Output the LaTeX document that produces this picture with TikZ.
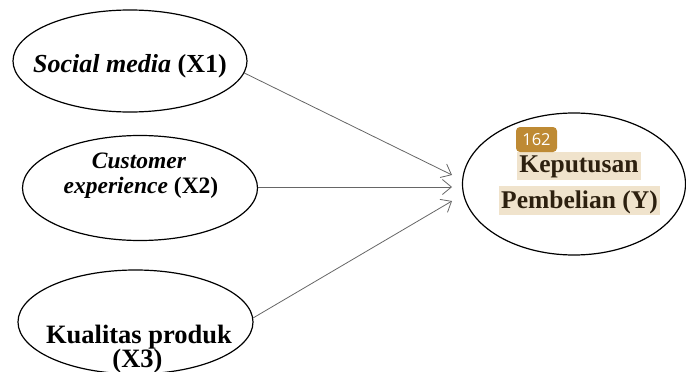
\documentclass[tikz,border=0pt]{standalone}
\usepackage{fontspec}
\setmainfont{Liberation Serif}
\setsansfont{Open Sans}
\usetikzlibrary{shapes.geometric,arrows.meta}
\definecolor{hlbeige}{RGB}{240,227,204}
\definecolor{hltext}{RGB}{45,32,15}
\definecolor{badgegold}{RGB}{190,138,52}
\begin{document}
\begin{tikzpicture}[x=1pt,y=-1pt,
  var/.style={ellipse, draw, line width=1.2pt, inner sep=0pt},
  lbl/.style={anchor=base, inner sep=0pt, font=\fontsize{#1}{#1}\selectfont\bfseries},
  hl/.style={lbl=25.5, text=hltext, fill=hlbeige, inner xsep=2pt},
  path/.style={draw=black!60, line width=0.8pt, -{Straight Barb[length=9pt,width=15pt]}}]
\useasboundingbox (0,0) rectangle (686,372);
% variabel bebas
\node[var, minimum width=234pt, minimum height=102pt] (x1) at (130,61){};
\node[lbl=26] (tx1) at (130,72){\itshape Social media \upshape(X1)};
\node[var, minimum width=235pt, minimum height=105pt] (x2) at (140,188){};
\node[lbl=23.5] (tx2a) at (139,168){\itshape Customer};
\node[lbl=23.5] (tx2b) at (141,193){\itshape experience \upshape(X2)};
\node[var, minimum width=235pt, minimum height=104pt] (x3) at (135.5,322){};
\node[lbl=26.5] (tx3a) at (139,343){Kualitas produk};
\node[lbl=26.5] (tx3b) at (137.5,367){(X3)};
% variabel terikat
\node[var, minimum width=223pt, minimum height=142pt] (y) at (574,184){};
\node[hl, text height=20pt, text depth=8pt] (ty1) at (579,172){Keputusan};
\node[hl, text height=22pt, text depth=7pt] (ty2) at (579.5,208){Pembelian (Y)};
\node[fill=badgegold, rounded corners=4pt, text=white, font=\sffamily\fontsize{16.5}{16.5}\selectfont, minimum width=41pt, minimum height=25pt, inner sep=0pt] (badge) at (536.5,139.5){162};
% panah
\coordinate (t1) at (452,175);
\coordinate (t2) at (452,187);
\coordinate (t3) at (452,201);
\draw[path] (x1.-6) -- (t1);
\draw[path] (x2.east |- t2) -- (t2);
\draw[path] (x3.2) -- (t3);
\end{tikzpicture}
\end{document}
